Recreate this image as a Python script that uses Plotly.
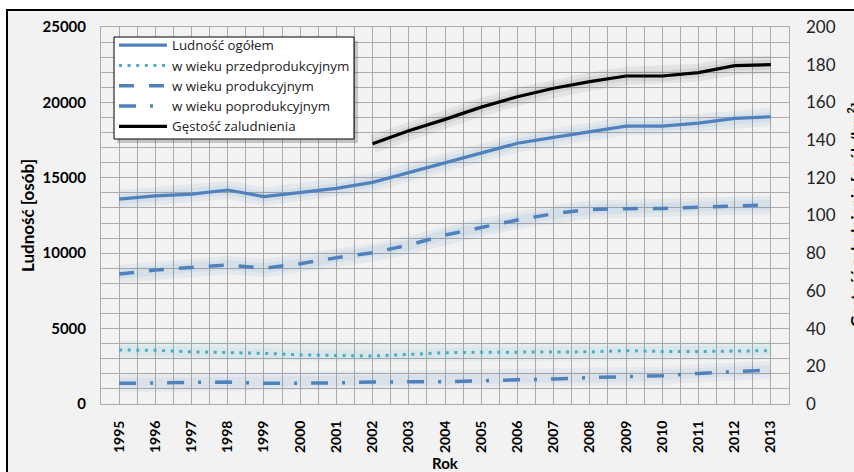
import plotly.graph_objects as go

years = list(range(1995, 2014))
ludnosc_ogolem = [13580, 13800, 13920, 14190, 13750, 14000, 14300, 14700, 15350, 16030, 16650, 17290, 17680, 18080, 18430, 18430, 18620, 18940, 19050]
przedprodukcyjny = [3580, 3560, 3460, 3430, 3360, 3260, 3220, 3180, 3290, 3400, 3430, 3430, 3430, 3460, 3540, 3480, 3480, 3530, 3540]
produkcyjny = [8620, 8880, 9060, 9220, 9000, 9300, 9700, 10030, 10540, 11200, 11700, 12200, 12620, 12900, 12950, 12970, 13050, 13120, 13200]
poprodukcyjny = [1370, 1400, 1430, 1460, 1370, 1380, 1400, 1460, 1460, 1480, 1540, 1590, 1660, 1750, 1810, 1880, 2030, 2170, 2260]
gestosc = [None, None, None, None, None, None, None, 138, 145, 151, 157.5, 163, 167.5, 171, 174, 174, 175.8, 179.5, 180]

names = ["Ludność ogółem", "w wieku przedprodukcyjnym", "w wieku produkcyjnym",
         "w wieku poprodukcyjnym", "Gęstość zaludnienia"]
right_title = "Gęstość zaludnienia [osób/km<sup>2</sup>]"

BLUE = "#4F81BD"
TEAL = "#4BACC6"
FONT = "Lato"

fig = go.Figure()

# glow (shadow) traces
glow_specs = [
    (ludnosc_ogolem, "y", "rgba(79,129,189,0.09)"),
    (przedprodukcyjny, "y", "rgba(75,172,198,0.07)"),
    (produkcyjny, "y", "rgba(79,129,189,0.09)"),
    (poprodukcyjny, "y", "rgba(79,129,189,0.07)"),
    (gestosc, "y2", "rgba(0,0,0,0.06)"),
]
for vals, ax, col in glow_specs:
    for w in (18, 10):
        fig.add_trace(go.Scatter(x=years, y=vals, yaxis=ax, mode="lines",
                                 line=dict(color=col, width=w),
                                 showlegend=False, hoverinfo="skip"))

fig.add_trace(go.Scatter(x=years, y=ludnosc_ogolem, name=names[0], mode="lines",
                         line=dict(color=BLUE, width=3.2)))
fig.add_trace(go.Scatter(x=years, y=przedprodukcyjny, name=names[1], mode="lines",
                         line=dict(color=TEAL, width=3, dash="3px,5.6px")))
fig.add_trace(go.Scatter(x=years, y=produkcyjny, name=names[2], mode="lines",
                         line=dict(color=BLUE, width=3.5, dash="15px,15px")))
fig.add_trace(go.Scatter(x=years, y=poprodukcyjny, name=names[3], mode="lines",
                         line=dict(color=BLUE, width=3.5, dash="17px,14px,3px,14px")))
fig.add_trace(go.Scatter(x=years, y=gestosc, name=names[4], mode="lines", yaxis="y2",
                         line=dict(color="black", width=3.2)))

GRID = "#ABABAB"

# pixel helpers for paper coords (plot area 101..789 x 27..404)
def px(x):
    return (x - 101) / 688.0

def py(y):
    return (404 - y) / 377.0

fig.update_layout(
    width=854, height=472,
    margin=dict(l=101, r=65, t=27, b=68, autoexpand=False),
    paper_bgcolor="white",
    plot_bgcolor="#F2F2F2",
    font=dict(family=FONT, color="black"),
    showlegend=True,
    legend=dict(x=px(114), y=py(30), xanchor="left", yanchor="top",
                bgcolor="rgba(0,0,0,0)", borderwidth=0,
                font=dict(family="Open Sans", size=13.3, color="#222"),
                tracegroupgap=0, itemwidth=48),
    xaxis=dict(range=[1994.5, 2013.5], tickmode="linear", tick0=1995, dtick=1,
               tickangle=-90, tickfont=dict(size=14, family=FONT, weight="bold"),
               showgrid=True, gridcolor=GRID, gridwidth=1,
               minor=dict(dtick=0.5, tick0=1994.5, showgrid=True, gridcolor=GRID, gridwidth=1),
               showline=True, linecolor=GRID, mirror=True, ticks="",
               ticklabelstandoff=10,
               title=dict(text="Rok", font=dict(size=15, family=FONT, weight="bold"), standoff=7),
               zeroline=False, automargin=False),
    yaxis=dict(range=[0, 25000], tickmode="linear", tick0=0, dtick=5000, tickformat="d",
               tickfont=dict(size=15, family=FONT, weight="bold"),
               showgrid=True, gridcolor=GRID, gridwidth=1,
               minor=dict(dtick=1000, showgrid=True, gridcolor=GRID, gridwidth=1),
               showline=True, linecolor=GRID, mirror=True, ticks="",
               ticklabelstandoff=11,
               title=dict(text="Ludność [osób]", font=dict(size=17, family=FONT, weight="bold"), standoff=3),
               zeroline=False, automargin=False),
    yaxis2=dict(range=[0, 200], tickmode="linear", tick0=0, dtick=20,
                overlaying="y", side="right", showgrid=False, zeroline=False,
                tickfont=dict(size=17, family=FONT, color="#222"),
                ticks="", ticklabelstandoff=16,
                automargin=False),
    annotations=[
        dict(text=right_title, textangle=-90, xref="paper", yref="paper",
             x=px(854), y=py(215), xanchor="center", yanchor="middle", showarrow=False,
             font=dict(size=16, family=FONT, weight="bold", color="black")),
    ],
    shapes=[
        dict(type="rect", xref="paper", yref="paper", x0=px(7), x1=px(900), y0=py(10), y1=py(520),
             fillcolor="#F2F2F2", line=dict(color="black", width=2), layer="below"),
        # legend shadow and box
        dict(type="rect", xref="paper", yref="paper", x0=px(117), x1=px(358), y0=py(41), y1=py(143),
             fillcolor="rgba(0,0,0,0.18)", line=dict(width=0), layer="above"),
        dict(type="rect", xref="paper", yref="paper", x0=px(114), x1=px(354), y0=py(37), y1=py(139),
             fillcolor="white", line=dict(color="black", width=1), layer="above"),
    ],
)

fig.write_html("out.html", config={"displayModeBar": False},
               post_script="document.body.style.margin='0px';")
